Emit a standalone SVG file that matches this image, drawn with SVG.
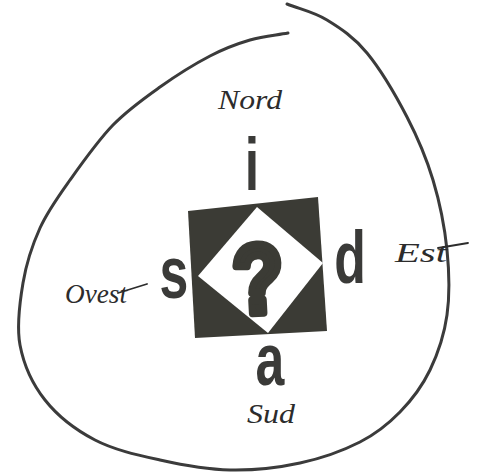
<svg xmlns="http://www.w3.org/2000/svg" width="481" height="474" viewBox="0 0 481 474">
<style>
.blob{fill:none;stroke:#3b3b3b;stroke-width:3;stroke-linecap:round}
.big{font-family:"Liberation Sans",Arial,sans-serif;font-weight:bold;font-size:74px;fill:#3a3a38;text-anchor:middle}
.hand{font-family:"Liberation Serif","DejaVu Serif",serif;font-style:italic;font-size:28px;fill:#2c2c2c}
.flourish{fill:none;stroke:#2c2c2c;stroke-width:1.8;stroke-linecap:round}
</style>
<rect width="481" height="474" fill="#ffffff"/>
<g id="boundary">
<path class="blob" d="M287,4 C300.3,9.3 313.7,11.8 327,20 C340.3,28.2 353.7,36.8 367,53 C380.3,69.2 396,95.8 407,117 C418,138.2 426.3,157.8 433,180 C439.7,202.2 444.7,227.5 447,250 C449.3,272.5 449.8,295 447,315 C444.2,335 437.8,353.8 430,370 C422.2,386.2 411.7,400 400,412 C388.3,424 376.7,433.5 360,442 C343.3,450.5 321.7,458.3 300,463 C278.3,467.7 253.3,470.5 230,470 C206.7,469.5 182.5,465 160,460 C137.5,455 114.2,450 95,440 C75.8,430 57.5,415.8 45,400 C32.5,384.2 23.7,364.5 20,345 C16.3,325.5 19.7,302.5 23,283 C26.3,263.5 32.2,245.2 40,228 C47.8,210.8 57.8,197.2 70,180 C82.2,162.8 98,140.5 113,125 C128,109.5 143.8,98.5 160,87 C176.2,75.5 195,63.8 210,56 C225,48.2 237,43.8 250,40 C263,36.2 275.3,35.3 288,33"/>
</g>
<g id="center-symbol">
<polygon points="188,211 318,197 327,331 195,338" fill="#3b3b35"/>
<polygon points="257,207 323,263 268,333 198,276" fill="#ffffff"/>
<text transform="translate(260,313) rotate(-3) scale(0.85,1)" font-family="Liberation Sans,Arial,sans-serif" font-weight="bold" font-size="98" fill="#3b3b35" stroke="#3b3b35" stroke-width="8" stroke-linejoin="round" text-anchor="middle">?</text>
</g>
<g id="letter-i"><text class="big" transform="translate(252,190) scale(0.7,1)">i</text></g>
<g id="letter-s"><text class="big" transform="translate(174,298) scale(0.7,1)">s</text></g>
<g id="letter-d"><text class="big" transform="translate(350,283) scale(0.7,1)">d</text></g>
<g id="letter-a"><text class="big" transform="translate(270,385) scale(0.7,1)">a</text></g>
<g id="label-nord"><text class="hand" x="218" y="109" textLength="64" lengthAdjust="spacingAndGlyphs">Nord</text></g>
<g id="label-ovest">
<text class="hand" x="65" y="303" textLength="62" lengthAdjust="spacingAndGlyphs">Ovest</text>
<path class="flourish" d="M118,293 L147,284"/>
</g>
<g id="label-est">
<text class="hand" x="395" y="262" textLength="52" lengthAdjust="spacingAndGlyphs">Est</text>
<path class="flourish" d="M438,248 L468,243"/>
</g>
<g id="label-sud"><text class="hand" x="247" y="423" font-size="26" textLength="48" lengthAdjust="spacingAndGlyphs">Sud</text></g>
</svg>
